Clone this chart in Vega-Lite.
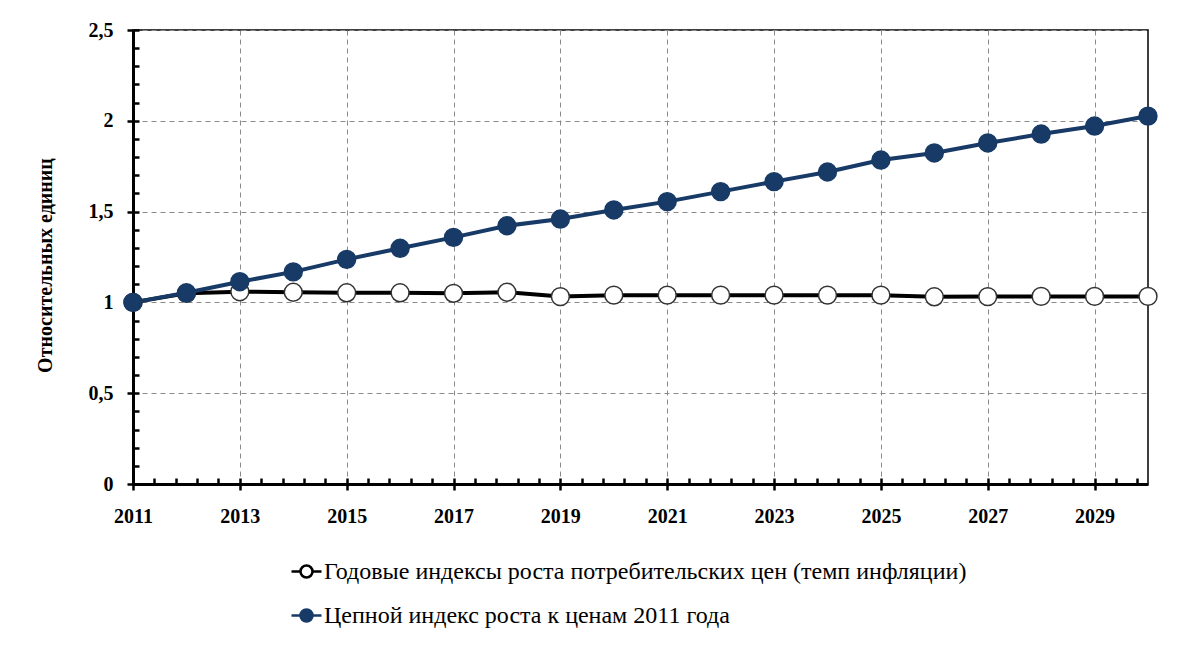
{
  "$schema": "https://vega.github.io/schema/vega-lite/v6.json",
  "width": 1015,
  "height": 454,
  "autosize": {"type": "none"},
  "padding": {"left": 133, "top": 30, "right": 46, "bottom": 168},
  "background": "white",
  "config": {
    "view": {"stroke": "black", "strokeWidth": 1.5},
    "font": "Liberation Serif",
    "legend": {
      "title": null,
      "orient": "none",
      "legendX": 157,
      "legendY": 525,
      "direction": "vertical",
      "padding": 0,
      "rowPadding": 15,
      "symbolType": "M-1,0H-0.4M0.4,0H1M0.4,0A0.4,0.4,0,1,1,-0.4,0A0.4,0.4,0,1,1,0.4,0Z",
      "symbolSize": 900,
      "symbolStrokeWidth": 2.5,
      "labelFont": "Liberation Serif", "labelFontSize": 24, "labelColor": "black",
      "labelLimit": 1000, "labelOffset": 1
    }
  },
  "data": {
    "values": [
      {"year": 2011, "series": "Годовые индексы роста потребительских цен (темп инфляции)", "value": 1.0},
      {"year": 2012, "series": "Годовые индексы роста потребительских цен (темп инфляции)", "value": 1.05},
      {"year": 2013, "series": "Годовые индексы роста потребительских цен (темп инфляции)", "value": 1.059},
      {"year": 2014, "series": "Годовые индексы роста потребительских цен (темп инфляции)", "value": 1.056},
      {"year": 2015, "series": "Годовые индексы роста потребительских цен (темп инфляции)", "value": 1.053},
      {"year": 2016, "series": "Годовые индексы роста потребительских цен (темп инфляции)", "value": 1.053},
      {"year": 2017, "series": "Годовые индексы роста потребительских цен (темп инфляции)", "value": 1.05},
      {"year": 2018, "series": "Годовые индексы роста потребительских цен (темп инфляции)", "value": 1.056},
      {"year": 2019, "series": "Годовые индексы роста потребительских цен (темп инфляции)", "value": 1.032},
      {"year": 2020, "series": "Годовые индексы роста потребительских цен (темп инфляции)", "value": 1.04},
      {"year": 2021, "series": "Годовые индексы роста потребительских цен (темп инфляции)", "value": 1.04},
      {"year": 2022, "series": "Годовые индексы роста потребительских цен (темп инфляции)", "value": 1.04},
      {"year": 2023, "series": "Годовые индексы роста потребительских цен (темп инфляции)", "value": 1.04},
      {"year": 2024, "series": "Годовые индексы роста потребительских цен (темп инфляции)", "value": 1.04},
      {"year": 2025, "series": "Годовые индексы роста потребительских цен (темп инфляции)", "value": 1.04},
      {"year": 2026, "series": "Годовые индексы роста потребительских цен (темп инфляции)", "value": 1.031},
      {"year": 2027, "series": "Годовые индексы роста потребительских цен (темп инфляции)", "value": 1.032},
      {"year": 2028, "series": "Годовые индексы роста потребительских цен (темп инфляции)", "value": 1.033},
      {"year": 2029, "series": "Годовые индексы роста потребительских цен (темп инфляции)", "value": 1.033},
      {"year": 2030, "series": "Годовые индексы роста потребительских цен (темп инфляции)", "value": 1.033},
      {"year": 2011, "series": "Цепной индекс роста к ценам 2011  года", "value": 1.0},
      {"year": 2012, "series": "Цепной индекс роста к ценам 2011  года", "value": 1.053},
      {"year": 2013, "series": "Цепной индекс роста к ценам 2011  года", "value": 1.114},
      {"year": 2014, "series": "Цепной индекс роста к ценам 2011  года", "value": 1.168},
      {"year": 2015, "series": "Цепной индекс роста к ценам 2011  года", "value": 1.237},
      {"year": 2016, "series": "Цепной индекс роста к ценам 2011  года", "value": 1.298},
      {"year": 2017, "series": "Цепной индекс роста к ценам 2011  года", "value": 1.358},
      {"year": 2018, "series": "Цепной индекс роста к ценам 2011  года", "value": 1.422},
      {"year": 2019, "series": "Цепной индекс роста к ценам 2011  года", "value": 1.459},
      {"year": 2020, "series": "Цепной индекс роста к ценам 2011  года", "value": 1.509},
      {"year": 2021, "series": "Цепной индекс роста к ценам 2011  года", "value": 1.555},
      {"year": 2022, "series": "Цепной индекс роста к ценам 2011  года", "value": 1.61},
      {"year": 2023, "series": "Цепной индекс роста к ценам 2011  года", "value": 1.665},
      {"year": 2024, "series": "Цепной индекс роста к ценам 2011  года", "value": 1.718},
      {"year": 2025, "series": "Цепной индекс роста к ценам 2011  года", "value": 1.784},
      {"year": 2026, "series": "Цепной индекс роста к ценам 2011  года", "value": 1.823},
      {"year": 2027, "series": "Цепной индекс роста к ценам 2011  года", "value": 1.878},
      {"year": 2028, "series": "Цепной индекс роста к ценам 2011  года", "value": 1.927},
      {"year": 2029, "series": "Цепной индекс роста к ценам 2011  года", "value": 1.971},
      {"year": 2030, "series": "Цепной индекс роста к ценам 2011  года", "value": 2.026}
    ]
  },
  "resolve": {"axis": {"x": "independent", "y": "independent"}},
  "layer": [
    {
      "mark": {"type": "line", "strokeWidth": 4},
      "encoding": {
        "x": {
          "field": "year", "type": "quantitative",
          "scale": {"domain": [2011, 2030], "nice": false, "zero": false},
          "axis": {
            "orient": "bottom",
            "title": null,
            "values": [2011, 2013, 2015, 2017, 2019, 2021, 2023, 2025, 2027, 2029],
            "format": "d",
            "grid": true, "gridColor": "#8a8a8a", "gridDash": [5, 4], "gridWidth": 1,
            "domainColor": "black", "domainWidth": 3,
            "tickColor": "black", "tickWidth": 2.5, "tickSize": 6,
            "labelFont": "Liberation Serif", "labelFontSize": 20, "labelFontWeight": "bold", "labelColor": "black",
            "labelPadding": 16, "labelFlush": false
          }
        },
        "y": {
          "field": "value", "type": "quantitative",
          "scale": {"domain": [0, 2.5], "nice": false},
          "axis": {
            "orient": "left",
            "title": "Относительных единиц",
            "titleFont": "Liberation Serif", "titleFontSize": 20, "titleFontWeight": "bold", "titleColor": "black",
            "titleAngle": -90, "titleX": -88, "titleY": 235, "titleAlign": "center", "titleBaseline": "middle",
            "values": [0, 0.5, 1, 1.5, 2, 2.5],
            "format": ".1~f",
            "labelExpr": "replace(datum.label, '.', ',')",
            "grid": true, "gridColor": "#8a8a8a", "gridDash": [5, 4], "gridWidth": 1,
            "domainColor": "black", "domainWidth": 3,
            "tickColor": "black", "tickWidth": 2.5, "tickSize": 6,
            "labelFont": "Liberation Serif", "labelFontSize": 20, "labelFontWeight": "bold", "labelColor": "black",
            "labelPadding": 14
          }
        },
        "color": {
          "field": "series", "type": "nominal",
          "scale": {
            "domain": ["Годовые индексы роста потребительских цен (темп инфляции)", "Цепной индекс роста к ценам 2011  года"],
            "range": ["#000000", "#173A66"]
          },
          "legend": {}
        },
        "order": {"field": "year", "type": "quantitative"}
      }
    },
    {
      "mark": {"type": "point", "filled": true, "size": 320, "strokeWidth": 1.5, "opacity": 1},
      "encoding": {
        "x": {
          "field": "year", "type": "quantitative",
          "axis": {
            "orient": "bottom",
            "title": null, "labels": false, "domain": false, "grid": false,
            "values": [2011, 2011.4, 2011.8, 2012.2, 2012.6, 2013, 2013.4, 2013.8, 2014.2, 2014.6, 2015, 2015.4, 2015.8, 2016.2, 2016.6, 2017, 2017.4, 2017.8, 2018.2, 2018.6, 2019, 2019.4, 2019.8, 2020.2, 2020.6, 2021, 2021.4, 2021.8, 2022.2, 2022.6, 2023, 2023.4, 2023.8, 2024.2, 2024.6, 2025, 2025.4, 2025.8, 2026.2, 2026.6, 2027, 2027.4, 2027.8, 2028.2, 2028.6, 2029, 2029.4, 2029.8],
            "tickColor": "black", "tickWidth": 2.5, "tickSize": -6
          }
        },
        "y": {
          "field": "value", "type": "quantitative",
          "axis": {
            "orient": "left",
            "title": null, "labels": false, "domain": false, "grid": false,
            "values": [0, 0.1, 0.2, 0.3, 0.4, 0.5, 0.6, 0.7, 0.8, 0.9, 1, 1.1, 1.2, 1.3, 1.4, 1.5, 1.6, 1.7, 1.8, 1.9, 2, 2.1, 2.2, 2.3, 2.4, 2.5],
            "tickColor": "black", "tickWidth": 2.5, "tickSize": -6
          }
        },
        "fill": {
          "field": "series", "type": "nominal",
          "scale": {
            "domain": ["Годовые индексы роста потребительских цен (темп инфляции)", "Цепной индекс роста к ценам 2011  года"],
            "range": ["#ffffff", "#173A66"]
          },
          "legend": {}
        },
        "stroke": {
          "field": "series", "type": "nominal",
          "scale": {
            "domain": ["Годовые индексы роста потребительских цен (темп инфляции)", "Цепной индекс роста к ценам 2011  года"],
            "range": ["#333333", "#173A66"]
          },
          "legend": {}
        }
      }
    }
  ]
}
